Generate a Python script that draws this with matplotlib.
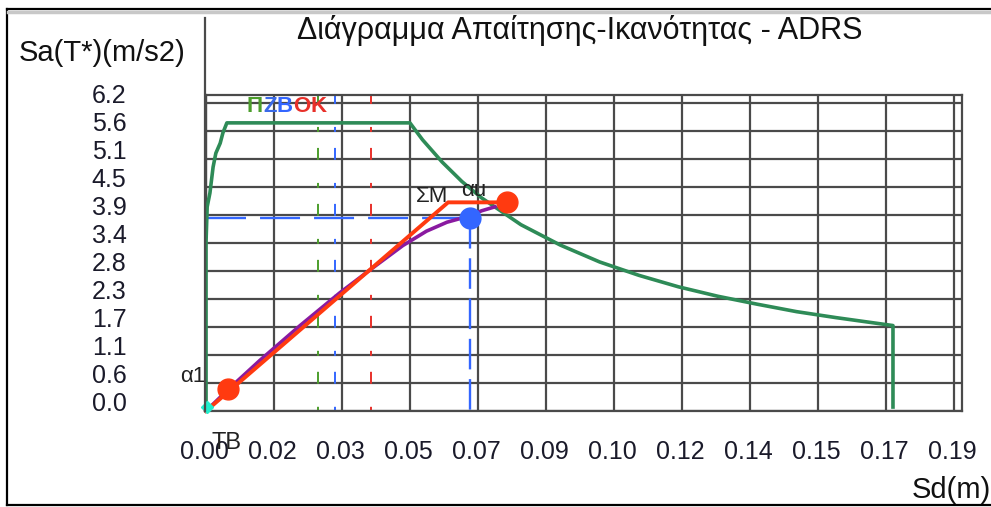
import numpy as np
import matplotlib
matplotlib.use("Agg")
import matplotlib.pyplot as plt
from matplotlib.lines import Line2D
from matplotlib.transforms import offset_copy

plt.rcParams['font.family'] = ['Liberation Sans', 'DejaVu Sans']
plt.rcParams['lines.scale_dashes'] = False

# άξονες: ετικέτες υποδιαιρέσεων
x_tick_labels = ['0.00', '0.02', '0.03', '0.05', '0.07', '0.09', '0.10',
                 '0.12', '0.14', '0.15', '0.17', '0.19']
y_tick_labels = ['0.0', '0.6', '1.1', '1.7', '2.3', '2.8', '3.4', '3.9',
                 '4.5', '5.1', '5.6', '6.2']
x_max_label = 0.19
y_max_label = 6.2

# φάσμα απαίτησης ADRS (πράσινο)
adrs_sd = [0.0, 0.0, 0.0003, 0.0010, 0.0018, 0.0025, 0.0036, 0.0043, 0.0053,
           0.0518, 0.055, 0.060, 0.065, 0.070, 0.080, 0.090, 0.100, 0.110,
           0.120, 0.130, 0.140, 0.150, 0.160, 0.1745, 0.1745]
adrs_sa = [0.0, 3.38, 4.11, 4.39, 4.91, 5.19, 5.39, 5.60, 5.80,
           5.80, 5.46, 5.01, 4.62, 4.29, 3.75, 3.34, 3.00, 2.73,
           2.50, 2.31, 2.15, 2.00, 1.88, 1.72, 0.08]

# καμπύλη ικανότητας (μωβ)
cap_sd = [0.0, 0.0060, 0.0137, 0.0239, 0.0340, 0.0420, 0.0500, 0.0560, 0.0612,
          0.0671, 0.0700, 0.0734]
cap_sa = [0.0, 0.46, 1.02, 1.72, 2.38, 2.86, 3.33, 3.62, 3.80,
          3.93, 4.03, 4.11]

# διγραμμική προσέγγιση (κόκκινο)
bil_sd = [0.0, 0.0615, 0.0765]
bil_sa = [0.0, 4.20, 4.20]
a1_point = (0.0056, 0.44)
au_point = (0.0765, 4.20)
perf_point = (0.0670, 3.88)   # σημείο επιτελεστικότητας (μπλε)
origin_point = (0.0003, 0.08)

# στάθμες επιτελεστικότητας (κατακόρυφες διακεκομμένες)
level_sd = [0.0284, 0.0328, 0.0419]
level_colors = ['#4c9e2c', '#3366ff', '#e8302a']

W, H = 991, 507
fig = plt.figure(figsize=(W / 100, H / 100), dpi=100)

def fx(px):
    return px / W

def fy(py):
    return 1 - py / H

# περιοχή σχεδίασης σε pixel: αριστ. 206, δεξ. 962, πάνω 95, κάτω 411
ax = fig.add_axes([fx(206), fy(411), fx(962) - fx(206), fy(95) - fy(411)])
x_step = x_max_label / (len(x_tick_labels) - 1)
y_step = y_max_label / (len(y_tick_labels) - 1)
ax.set_xlim(0, x_step * (962 - 206) / 68)
ax.set_ylim(0, y_step * (411 - 95) / 28)
ax.set_xticks([])
ax.set_yticks([])
for s in ax.spines.values():
    s.set_color('#4a4a4a')
    s.set_linewidth(1.6)

grid_c = '#4a4a4a'
xs = np.arange(len(x_tick_labels)) * x_step
ys = np.arange(len(y_tick_labels)) * y_step
for v in xs:
    ax.axvline(v, color=grid_c, lw=1.6, zorder=1)
for v in ys:
    ax.axhline(v, color=grid_c, lw=1.6, zorder=1)

# ετικέτες αξόνων
tcol = '#1a1a2a'
xtr = offset_copy(ax.transData, fig=fig, x=-2, y=-41, units='dots')
for v, lab in zip(xs, x_tick_labels):
    ax.text(v, 0, lab, transform=xtr, ha='center', va='center', fontsize=18,
            color=tcol, clip_on=False)
ytr = offset_copy(ax.transData, fig=fig, x=0, y=7, units='dots')
ylab_x = -x_step * (206 - 109) / 68
for v, lab in zip(ys, y_tick_labels):
    ax.text(ylab_x, v, lab, transform=ytr, ha='center', va='center', fontsize=18,
            color=tcol, clip_on=False)

# κατακόρυφες διακεκομμένες
for sd, c in zip(level_sd, level_colors):
    ln, = ax.plot([sd, sd], [ax.get_ylim()[1], 0], color=c, lw=1.4, zorder=2)
    ln.set_linestyle((2.2, (8.6, 16.6, 3.6, 11.5)))

# μπλε διακεκομμένες προς το σημείο επιτελεστικότητας
h, = ax.plot([0, perf_point[0]], [perf_point[1], perf_point[1]], color='#3366ff', lw=1.7, zorder=2)
h.set_linestyle((0, (28.8, 10.1)))
v, = ax.plot([perf_point[0], perf_point[0]], [perf_point[1], 0], color='#3366ff', lw=1.7, zorder=2)
v.set_linestyle((0, (22, 7)))

# καμπύλες
ax.plot(adrs_sd, adrs_sa, color='#2e8b57', lw=2.6, zorder=3, clip_on=False)
ax.plot(cap_sd, cap_sa, color='#8a1aa0', lw=2.6, zorder=4, clip_on=False)
ax.plot(bil_sd, bil_sa, color='#ff3a10', lw=2.8, zorder=5, clip_on=False)

ax.plot(*a1_point, 'o', color='#ff3a10', ms=15, zorder=6, clip_on=False)
ax.plot(*au_point, 'o', color='#ff3a10', ms=15, zorder=6, clip_on=False)
ax.plot(*perf_point, 'o', color='#3366ff', ms=15, zorder=6, clip_on=False)
ax.plot(*origin_point, 'D', color='#22eecc', ms=6, zorder=7, clip_on=False)

# επιγραφές σημείων
fig.text(fx(193), fy(376), 'α1', ha='center', va='center', fontsize=16, color='#222')
fig.text(fx(227), fy(443), 'TB', ha='center', va='center', fontsize=17, color='#222')
fig.text(fx(432), fy(197), 'ΣΜ', ha='center', va='center', fontsize=16, color='#222')
fig.text(fx(474), fy(190), 'αu', ha='center', va='center', fontsize=16, color='#222')

# ετικέτες σταθμών επιτελεστικότητας
for ch, px, c in [('Π', 255, '#4c9e2c'), ('Ζ', 270, '#3a6ae8'), ('Β', 285, '#3366ff'),
                  ('Ο', 301.5, '#e8302a'), ('Κ', 318.5, '#e8302a')]:
    fig.text(fx(px), fy(107), ch, ha='center', va='center', fontsize=16,
             fontweight='bold', color=c)

# τίτλοι
fig.text(fx(580), fy(30), 'Διάγραμμα Απαίτησης-Ικανότητας - ADRS', ha='center',
         va='center', fontsize=22, color='#111')
fig.text(fx(102), fy(53), 'Sa(T*)(m/s2)', ha='center', va='center', fontsize=21, color='#111')
fig.text(fx(912), fy(490), 'Sd(m)', ha='left', va='center', fontsize=21, color='#111')

# γραμμή άξονα y πάνω από την περιοχή και εξωτερικό πλαίσιο
fig.add_artist(Line2D([fx(205), fx(205)], [fy(18), fy(411)], color='#4a4a4a', lw=1.6))
fig.add_artist(Line2D([fx(7), fx(7)], [fy(9), fy(505)], color='black', lw=1.6))
fig.add_artist(Line2D([fx(7), fx(991)], [fy(9), fy(9)], color='black', lw=1.6))
fig.add_artist(Line2D([fx(8), fx(991)], [fy(12), fy(12)], color='#c8c8c8', lw=2.5))
fig.add_artist(Line2D([fx(7), fx(991)], [fy(505), fy(505)], color='black', lw=1.6))

fig.savefig('out.png', dpi=100)
